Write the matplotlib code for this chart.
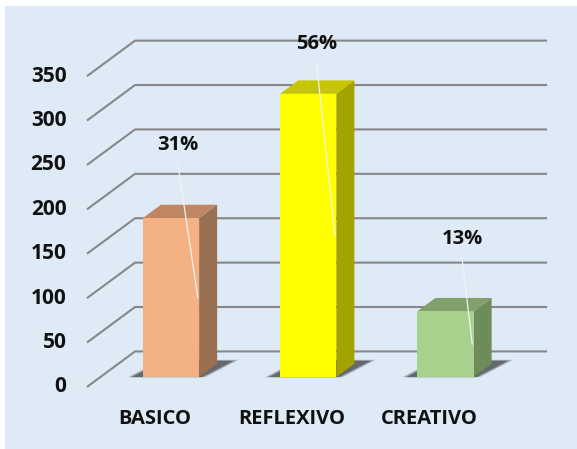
import matplotlib
matplotlib.use("Agg")
import matplotlib.pyplot as plt
from matplotlib.patches import Polygon, Rectangle

# datos del grafico
categories = ['BASICO', 'REFLEXIVO', 'CREATIVO']
values = [179, 319, 74]
yticks = [0, 50, 100, 150, 200, 250, 300, 350]

front_colors = ['#F4B183', '#FFFF00', '#A9D18E']
top_colors = ['#BF8663', '#C6C600', '#82A06C']
side_colors = ['#9A7052', '#A3A300', '#6E8B5A']

# posicion de las etiquetas de porcentaje (en unidades del eje)
label_v = [261, 375, 155]
label_dx = [0.05, 0.06, 0.12]

# geometria de la proyeccion oblicua
D0 = 0.28      # profundidad del plano frontal de las barras
DX = 0.35      # desplazamiento x por profundidad completa
DY = 40.0      # desplazamiento y por profundidad completa
BD = 0.375     # profundidad de la barra
W = 0.41       # ancho de la barra
XL, XR = -0.514, 2.488


def proj(x, v, d):
    return (x + (d - D0) * DX, v + (d - D0) * DY)


fig = plt.figure(figsize=(5.77, 4.49), dpi=100, facecolor='white')
fig.patches.append(Rectangle((5 / 577, 0), 1, (449 - 6) / 449, transform=fig.transFigure,
                             facecolor='#DEEBF7', edgecolor='none', zorder=-10))

ax = fig.add_axes([0, 0, 1, 1])
ax.set_xlim((0 - 171) / 137.25, (577 - 171) / 137.25)
ax.set_ylim((377 - 449) / 0.888, 377 / 0.888)
ax.axis('off')
ax.patch.set_alpha(0)

font = ['Open Sans', 'DejaVu Sans']

# lineas de cuadricula (pared izquierda + pared del fondo)
for v in yticks:
    pts = [proj(XL, v, 0), proj(XL, v, 1), proj(XR, v, 1)]
    ax.plot([p[0] for p in pts], [p[1] for p in pts], color='#878787', lw=1.5,
            solid_capstyle='butt', zorder=1)
    fx, fy = proj(XL, v, 0)
    ax.text(fx - 0.15, fy, str(v), ha='right', va='center', fontsize=15,
            fontweight='bold', family=font, color='#111111')

# barras 3D
total = sum(values)
for i, val in enumerate(values):
    x0, x1 = i - W / 2, i + W / 2
    # sombra difusa bajo la barra
    for grow, alpha in [(0.03, 0.2), (0.015, 0.3), (0.0, 0.45)]:
        sh = [proj(x0 - 0.08 - grow, 0, D0 - 0.005), proj(x1 + 0.02 + grow, 0, D0 - 0.005),
              proj(x1 + 0.09 + grow, 0, D0 + BD + 0.08 + grow),
              proj(x0 - 0.01 - grow, 0, D0 + BD + 0.08 + grow)]
        ax.add_patch(Polygon(sh, closed=True, facecolor='#303030', edgecolor='none',
                             alpha=alpha, zorder=2))
    side = [proj(x1, 0, D0), proj(x1, val, D0), proj(x1, val, D0 + BD), proj(x1, 0, D0 + BD)]
    top = [proj(x0, val, D0), proj(x1, val, D0), proj(x1, val, D0 + BD), proj(x0, val, D0 + BD)]
    front = [proj(x0, 0, D0), proj(x1, 0, D0), proj(x1, val, D0), proj(x0, val, D0)]
    ax.add_patch(Polygon(side, closed=True, facecolor=side_colors[i], edgecolor='none', zorder=3))
    ax.add_patch(Polygon(top, closed=True, facecolor=top_colors[i], edgecolor='none', zorder=3))
    ax.add_patch(Polygon(front, closed=True, facecolor=front_colors[i], edgecolor='none', zorder=4))

    # etiqueta de porcentaje con linea guia
    lx = i + label_dx[i]
    ax.text(lx, label_v[i], f'{round(val / total * 100)}%', ha='center', va='center',
            fontsize=14.5, fontweight='bold', family=font, color='#111111', zorder=6)
    ax.plot([lx, x1 - 0.01], [label_v[i] - 21, val / 2], color='#F2F2F2', lw=0.9, zorder=5)

    # etiqueta de categoria
    cx, cy = proj(i, 0, 0)
    ax.annotate(categories[i], (cx, cy), xytext=(-3 * 0.72, -32 * 0.72), textcoords='offset points',
                ha='center', va='center', fontsize=14.5, fontweight='bold', family=font,
                color='#111111')

fig.savefig('out.png', dpi=100, facecolor='white')
